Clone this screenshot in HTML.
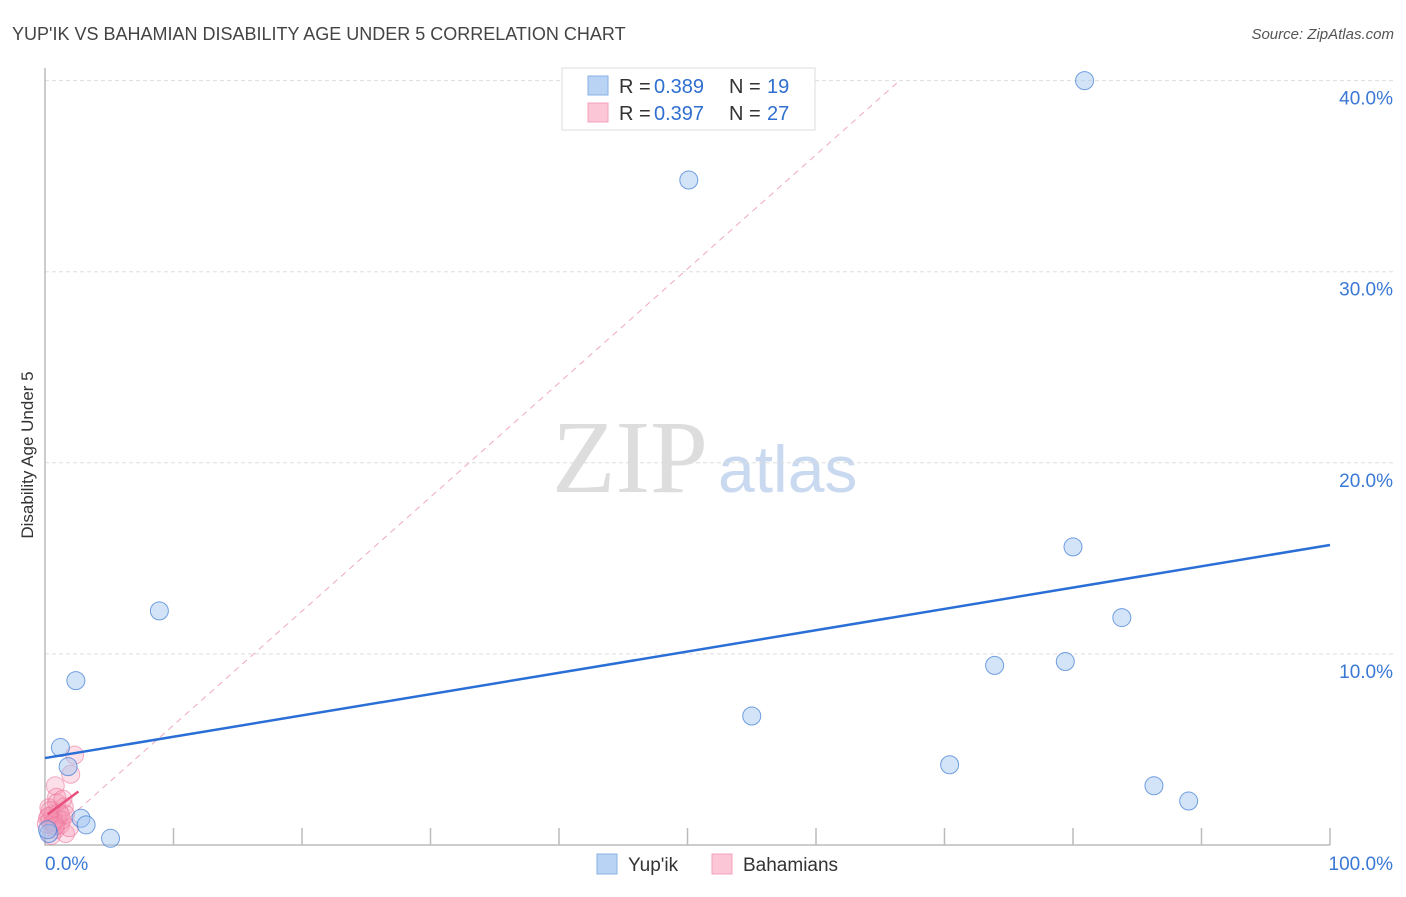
<!DOCTYPE html>
<html><head><meta charset="utf-8"><style>
body{margin:0;background:#fff;font-family:"Liberation Sans",sans-serif;}
</style></head><body>
<svg id="c" width="1406" height="892" xmlns="http://www.w3.org/2000/svg" font-family="Liberation Sans, sans-serif">
<text x="12" y="40" font-size="18" fill="#444">YUP'IK VS BAHAMIAN DISABILITY AGE UNDER 5 CORRELATION CHART</text>
<text x="1394" y="39" font-size="15" fill="#555" font-style="italic" text-anchor="end">Source: ZipAtlas.com</text>
<text transform="translate(33,455) rotate(-90)" font-size="17" fill="#333" text-anchor="middle">Disability Age Under 5</text>
<text x="552" y="492" font-size="104" fill="#ddd" style="font-family:'Liberation Serif',serif">ZIP</text>
<text x="718" y="492" font-size="66" fill="#c9d9f0">atlas</text>
<g id="grid"></g><g id="marks"></g>
<g>
<rect x="562" y="68" width="253" height="62" fill="#fff" stroke="#ddd"/>
<rect x="588" y="76" width="20" height="19" fill="#b9d3f5" stroke="#8ab0e6"/>
<rect x="588" y="103" width="20" height="19" fill="#fbc6d6" stroke="#f3a0ba"/>
<text x="619" y="93" font-size="20" fill="#333">R =</text>
<text x="654" y="93" font-size="20" fill="#2f6fd0">0.389</text>
<text x="729" y="93" font-size="20" fill="#333">N =</text>
<text x="767" y="93" font-size="20" fill="#2f6fd0">19</text>
<text x="619" y="120" font-size="20" fill="#333">R =</text>
<text x="654" y="120" font-size="20" fill="#2f6fd0">0.397</text>
<text x="729" y="120" font-size="20" fill="#333">N =</text>
<text x="767" y="120" font-size="20" fill="#2f6fd0">27</text>
</g>
<g>
<rect x="597" y="854" width="20" height="20" fill="#b9d3f5" stroke="#8ab0e6"/>
<text x="628" y="871" font-size="19" fill="#333">Yup'ik</text>
<rect x="712" y="854" width="20" height="20" fill="#fbc6d6" stroke="#f3a0ba"/>
<text x="743" y="871" font-size="19" fill="#333">Bahamians</text>
</g>
</svg>
<script>
const yTicks=[10,20,30,40];
const yTickLabels=["10.0%","20.0%","30.0%","40.0%"];
const xTickLabels=["0.0%","100.0%"];
const yupikX=[80.9,50.1,8.9,2.4,1.2,1.8,2.8,3.2,5.1,0.3,80.0,83.8,73.9,79.4,55.0,70.4,86.3,89.0,0.2];
const yupikY=[40.0,34.8,12.25,8.6,5.1,4.1,1.4,1.05,0.35,0.6,15.6,11.9,9.4,9.6,6.75,4.2,3.1,2.3,0.8];
const bahX=[2.3,2.0,0.8,0.9,1.5,1.1,0.6,0.4,1.2,0.8,1.6,0.2,0.5,1.0,1.3,0.3,0.9,1.9,0.5,0.1,1.2,0.7,1.6,0.4,0.3,0.8,1.4];
const bahY=[4.7,3.7,3.1,2.5,2.0,1.7,1.6,1.3,1.05,0.8,0.6,1.4,1.05,1.4,1.3,1.95,2.2,0.9,0.5,1.1,1.6,1.2,1.6,1.8,1.5,1.0,2.4];
const yupTrend=[4.55,15.7];
const bahTrend=[1.6,2.8]; const bahTrendX=[0.2,2.6];
const bahDash=[0.3,40]; const bahDashX=[0,66.5];
const X=v=>45+v*12.85, Y=v=>845-v*19.11;
const ns="http://www.w3.org/2000/svg";
function mk(t,a,p){const e=document.createElementNS(ns,t);for(const k in a)e.setAttribute(k,a[k]);p.appendChild(e);return e;}
const g=document.getElementById('grid'),m=document.getElementById('marks');
yTicks.forEach((t,i)=>{
 const l=mk('line',{x1:45,x2:1393,y1:Y(t),y2:Y(t),stroke:'#ddd','stroke-dasharray':'4,3'},g);
 
 
 const tx=mk('text',{x:1393,y:Y(t)+24,'font-size':19,fill:'#3a78d6','text-anchor':'end'},g);tx.textContent=yTickLabels[i];
 
 
});
const ax=mk('path',{d:'M45,68 V845 H1330',fill:'none',stroke:'#bbb','stroke-width':1.5},g);


for(let i=0;i<=10;i++){const t=mk('line',{x1:X(i*10),x2:X(i*10),y1:828,y2:845,stroke:'#bbb','stroke-width':1.5},g);
 
 }
[[45,'start',0],[1393,'end',1]].forEach(([x,a,i])=>{const t=mk('text',{x:x,y:870,'font-size':19,fill:'#3a78d6','text-anchor':a},g);t.textContent=xTickLabels[i];
 
 });
const dl=mk('line',{x1:X(bahDashX[0]),y1:Y(bahDash[0]),x2:X(bahDashX[1]),y2:Y(bahDash[1]),stroke:'#f0a8bf','stroke-dasharray':'6,5','stroke-width':1},m);


bahX.forEach((x,i)=>{const c=mk('circle',{cx:X(x),cy:Y(bahY[i]),r:9,fill:'rgba(245,150,180,0.3)',stroke:'rgba(235,110,150,0.55)','stroke-width':1},m);
 
 });
yupikX.forEach((x,i)=>{const c=mk('circle',{cx:X(x),cy:Y(yupikY[i]),r:9,fill:'rgba(160,195,240,0.45)',stroke:'rgba(70,130,215,0.75)','stroke-width':1},m);
 
 });
const yl=mk('line',{x1:X(0),y1:Y(yupTrend[0]),x2:X(100),y2:Y(yupTrend[1]),stroke:'#2a6fd6','stroke-width':2.5},m);


const bl=mk('line',{x1:X(bahTrendX[0]),y1:Y(bahTrend[0]),x2:X(bahTrendX[1]),y2:Y(bahTrend[1]),stroke:'#e8507e','stroke-width':2.5},m);


</script>
</body></html>
